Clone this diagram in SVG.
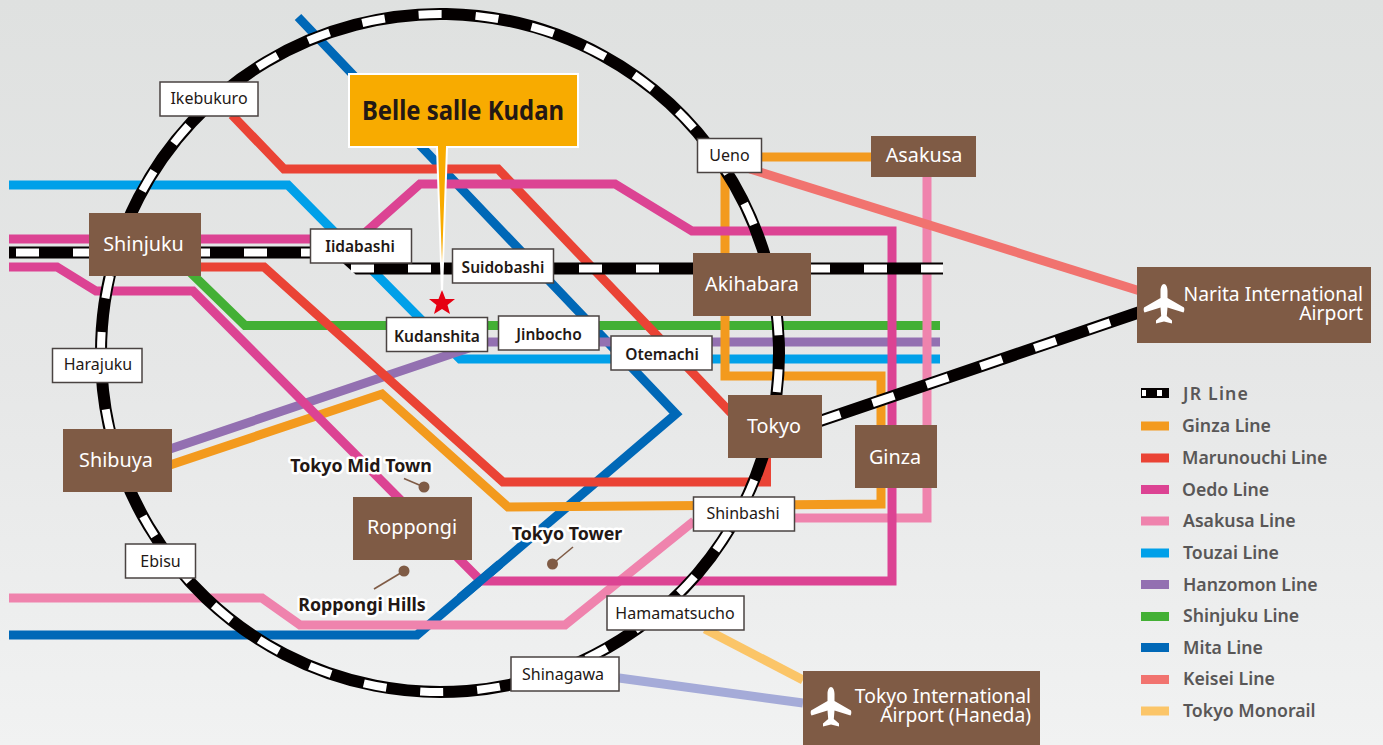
<svg xmlns="http://www.w3.org/2000/svg" width="1383" height="745" viewBox="0 0 1383 745">
<style>
.ln{fill:none;stroke-width:9;stroke-linejoin:miter}
.jb{fill:none;stroke:#040000;stroke-width:12}
.jw{fill:none;stroke:#fff;stroke-width:8;stroke-dasharray:23 34}
.ginza{stroke:#f39a1e}.maru{stroke:#ea4335}.oedo{stroke:#dc4393}.asa{stroke:#ef83ad}.tou{stroke:#00a0e9}.han{stroke:#9370b1}.shi{stroke:#43b035}.mita{stroke:#0068b7}.kei{stroke:#f1736f}.mono{stroke:#fbc568}.hane{stroke:#a5abd8}
.st{fill:#fff;stroke:#4a4342;stroke-width:1.5}
.br{fill:#7f5b45}
text{font-family:"Noto Sans","Open Sans",sans-serif}
.ts{font-size:16px;fill:#231815;text-anchor:middle}
.tsb{font-size:15.5px;fill:#231815;text-anchor:middle;font-weight:600}
.tb{font-size:19.8px;fill:#fff;text-anchor:middle}
.ta{font-size:19.3px;fill:#fff;text-anchor:end}
.lg{font-size:17.7px;fill:#595757;font-weight:600}
.lm{font-size:17.8px;font-weight:700;fill:#231815;stroke:#fff;stroke-width:5;paint-order:stroke;stroke-linejoin:round;text-anchor:middle}
.pin{fill:#7f5b45}
.pl{stroke:#7f5b45;stroke-width:1.6;fill:none}
</style>
<defs>
<linearGradient id="bg" x1="0" y1="0" x2="0" y2="1"><stop offset="0" stop-color="#dfe1e0"/><stop offset=".5" stop-color="#e6e7e7"/><stop offset="1" stop-color="#f1f2f2"/></linearGradient>
<path id="plane" fill="#fff" d="M0-20C2-20 3.500-17 3.500-13L3.500-6 20 3.500C20.500 5 20.500 7 19.500 8.500L3.500 3.500 2.800 12 8 16.500 8 19.500 0 17.500-8 19.500-8 16.500-2.800 12-3.500 3.500-19.500 8.500C-20.500 7-20.500 5-20 3.500L-3.500-6-3.500-13C-3.500-17-2-20 0-20Z"/>
</defs>
<rect width="1383" height="745" fill="url(#bg)"/>
<g id="connectors">
<path class="ln mita" d="M298 17 676 414 417 635H9"/>
<path class="ln tou" d="M9 185H288L460 359H940"/>
<path class="ln han" d="M170 449 460 351 487 342H940"/>
<path class="ln shi" d="M190 272 245 325.500H940"/>
<path class="ln ginza" d="M760 157H872M725 170V376H881V504L508 507 382 394 170 465"/>
<path class="ln maru" d="M232 115 284 169H498L732 414M200 267H264L503 482H766.500V458"/>
<path class="ln asa" d="M927 175V518H795M694 521 565 625H300L262 598H9"/>
<path class="ln kei" d="M750 169 1140 291"/>
<path class="ln oedo" d="M9 239H358L420 184H615L692 231H892V581H481L193 291H96L57 267H9"/>
<path class="ln mita" d="M500 564 460 598"/>
<path class="ln mono" d="M705 629 803 680"/>
<path class="ln hane" d="M619 678 803 703"/>
<path class="jb" d="M101 355A339 339 0 1 1 101.500 371.500"/>
<path class="jw" d="M101 355A339 339 0 1 1 101.500 371.500"/>
<path class="jb" d="M9 252.500H340L358 268.500H943"/>
<path class="jw" d="M16 252.500H340"/>
<path class="jw" d="M351 268.500H943"/>
<path class="jb" d="M820 421 1140 312"/>
<path class="jw" d="M1139 312.500 820 421" stroke-dashoffset="26.500"/>
</g>
<g id="callout">
<path fill="#f8ab00" stroke="#fff" stroke-width="2" d="M349 74H578V147H447L442 292 437 147H349Z"/>
<polygon fill="#e60012" points="442,290 445.500,299 455,299 447.500,305 450,314 442,309 434,314 436.500,305 429,299 438.500,299"/>
<text x="362" y="120" font-size="26" font-weight="700" fill="#231815" textLength="202" lengthAdjust="spacingAndGlyphs">Belle salle Kudan</text>
</g>
<g id="n-ikebukuro"><rect class="st" x="160" y="82" width="98" height="34"/><text class="ts" x="209" y="104">Ikebukuro</text></g>
<g id="n-shinjuku"><rect class="br" x="89" y="213" width="112" height="63"/><text class="tb" x="143.500" y="251">Shinjuku</text></g>
<g id="n-iidabashi"><rect class="st" x="310.500" y="229" width="101" height="34"/><text class="tsb" x="360" y="252">Iidabashi</text></g>
<g id="n-suidobashi"><rect class="st" x="452.500" y="249" width="101" height="34"/><text class="tsb" x="503" y="273">Suidobashi</text></g>
<g id="n-kudanshita"><rect class="st" x="386.500" y="317.500" width="101" height="34"/><text class="tsb" x="437" y="342">Kudanshita</text></g>
<g id="n-jinbocho"><rect class="st" x="498.500" y="316" width="100.500" height="34"/><text class="tsb" x="549" y="340">Jinbocho</text></g>
<g id="n-otemachi"><rect class="st" x="611" y="336" width="101" height="34"/><text class="tsb" x="662" y="360">Otemachi</text></g>
<g id="n-ueno"><rect class="st" x="697.500" y="138.500" width="64" height="34"/><text class="ts" x="729.500" y="161">Ueno</text></g>
<g id="n-asakusa"><rect class="br" x="871" y="136" width="105" height="41"/><text class="tb" x="924" y="162">Asakusa</text></g>
<g id="n-akihabara"><rect class="br" x="693" y="253" width="118" height="63"/><text class="tb" x="752" y="291">Akihabara</text></g>
<g id="n-tokyo"><rect class="br" x="728" y="395" width="94" height="63"/><text class="tb" x="774" y="433">Tokyo</text></g>
<g id="n-ginza"><rect class="br" x="855" y="425" width="82" height="63"/><text class="tb" x="895" y="464">Ginza</text></g>
<g id="n-shinbashi"><rect class="st" x="693.500" y="497" width="101" height="34"/><text class="ts" x="743" y="519">Shinbashi</text></g>
<g id="n-hamamatsucho"><rect class="st" x="607" y="596" width="137" height="34"/><text class="ts" x="675" y="619">Hamamatsucho</text></g>
<g id="n-shinagawa"><rect class="st" x="511" y="657" width="108" height="34"/><text class="ts" x="563" y="680">Shinagawa</text></g>
<g id="n-harajuku"><rect class="st" x="52.500" y="348.500" width="89.500" height="34"/><text class="ts" x="98" y="370">Harajuku</text></g>
<g id="n-shibuya"><rect class="br" x="63" y="429" width="109" height="63"/><text class="tb" x="116" y="467">Shibuya</text></g>
<g id="n-ebisu"><rect class="st" x="125.500" y="544" width="70" height="34"/><text class="ts" x="160.500" y="567">Ebisu</text></g>
<g id="n-roppongi"><rect class="br" x="353" y="497" width="119" height="63"/><text class="tb" x="412" y="534">Roppongi</text></g>
<g id="n-narita"><rect class="br" x="1137" y="267" width="234" height="76"/><use href="#plane" x="1164" y="304"/><text class="ta"><tspan x="1363" y="301">Narita International</tspan><tspan x="1363" y="320">Airport</tspan></text></g>
<g id="n-haneda"><rect class="br" x="803" y="671" width="237" height="74"/><use href="#plane" x="831" y="707"/><text class="ta"><tspan x="1031" y="703">Tokyo International</tspan><tspan x="1031" y="722">Airport (Haneda)</tspan></text></g>
<g id="landmarks">
<text class="lm" x="361" y="472">Tokyo Mid Town</text><path class="pl" d="M404 478.500 424 487"/><circle class="pin" cx="424" cy="487" r="5.500"/>
<text class="lm" x="362" y="611">Roppongi Hills</text><path class="pl" d="M374 589 404 571"/><circle class="pin" cx="404" cy="571" r="5.500"/>
<text class="lm" x="567" y="540">Tokyo Tower</text><path class="pl" d="M573 547 552.500 564"/><circle class="pin" cx="552.500" cy="564" r="5.500"/>
</g>
<g id="legend">
<rect x="1141" y="388" width="28" height="10" fill="#040000"/><rect x="1142" y="390" width="4" height="6" fill="#fff"/><rect x="1157" y="390" width="5" height="6" fill="#fff"/>
<rect x="1141" y="421.500" width="28" height="9" fill="#f39a1e"/>
<rect x="1141" y="453.500" width="28" height="9" fill="#ea4335"/>
<rect x="1141" y="485" width="28" height="9" fill="#dc4393"/>
<rect x="1141" y="516.500" width="28" height="9" fill="#ef83ad"/>
<rect x="1141" y="548.500" width="28" height="9" fill="#00a0e9"/>
<rect x="1141" y="580" width="28" height="9" fill="#9370b1"/>
<rect x="1141" y="612" width="28" height="9" fill="#43b035"/>
<rect x="1141" y="643" width="28" height="9" fill="#0068b7"/>
<rect x="1141" y="675" width="28" height="9" fill="#f1736f"/>
<rect x="1141" y="706.500" width="28" height="9" fill="#fbc568"/>
<text class="lg" x="1183" y="400" letter-spacing="1.200">JR  Line</text>
<text class="lg" x="1182" y="432">Ginza Line</text>
<text class="lg" x="1182" y="464">Marunouchi Line</text>
<text class="lg" x="1182" y="496">Oedo Line</text>
<text class="lg" x="1183" y="527">Asakusa Line</text>
<text class="lg" x="1183" y="559">Touzai Line</text>
<text class="lg" x="1183" y="591">Hanzomon Line</text>
<text class="lg" x="1183" y="622">Shinjuku Line</text>
<text class="lg" x="1183" y="654">Mita Line</text>
<text class="lg" x="1183" y="685">Keisei Line</text>
<text class="lg" x="1183" y="717">Tokyo Monorail</text>
</g>
</svg>
